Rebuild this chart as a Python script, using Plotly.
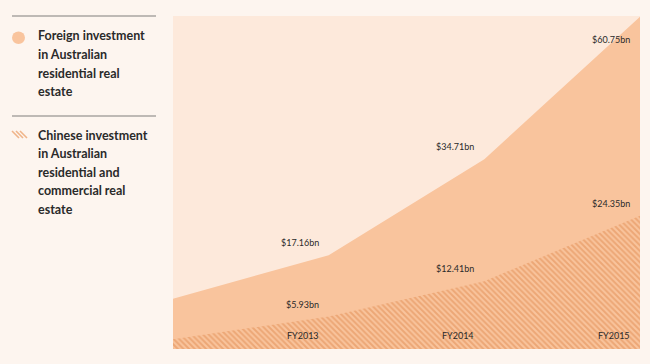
import plotly.graph_objects as go

# ---- data ----
years = ["FY2012", "FY2013", "FY2014", "FY2015"]
tick_labels = ["", "FY2013", "FY2014", "FY2015"]
foreign_vals = [9.2, 17.16, 34.71, 60.75]
chinese_vals = [1.8, 5.93, 12.41, 24.35]
foreign_labels = ["", "$17.16bn", "$34.71bn", "$60.75bn"]
chinese_labels = ["", "$5.93bn", "$12.41bn", "$24.35bn"]
legend_foreign = ["Foreign investment", "in Australian", "residential real", "estate"]
legend_chinese = ["Chinese investment", "in Australian", "residential and", "commercial real", "estate"]

W, H = 650, 364
L, R, T, B = 173, 10, 16, 15
PW = W - L - R
PH = H - T - B

def px_x(p):
    return (p - L) / PW

def px_y(p):
    return 1 - (p - T) / PH

PAGE_BG = "#fdf5ef"
PLOT_BG = "#fde9db"
FOREIGN = "#f9c49d"
STRIPE = "#e08a50"
TEXT = "#2a2a2a"
FONT = "Lato"

xs = list(range(len(years)))

fig = go.Figure()
fig.add_trace(go.Scatter(
    x=xs, y=foreign_vals, mode="lines", fill="tozeroy",
    fillcolor=FOREIGN, line=dict(color=FOREIGN, width=0), hoverinfo="skip",
))
fig.add_trace(go.Scatter(
    x=xs, y=chinese_vals, mode="lines", fill="tozeroy",
    fillcolor=FOREIGN,
    fillpattern=dict(shape="\\", fgcolor=STRIPE, bgcolor=FOREIGN, size=4, solidity=0.5),
    line=dict(color=FOREIGN, width=0), hoverinfo="skip",
))

ann = []
for i in xs:
    if foreign_labels[i]:
        top = i == len(xs) - 1
        ann.append(dict(x=i, y=foreign_vals[i], text=foreign_labels[i], showarrow=False,
                        xanchor="right", yanchor="top" if top else "bottom",
                        xshift=-8, yshift=-15 if top else 5,
                        font=dict(family=FONT, size=9, color=TEXT)))
    if chinese_labels[i]:
        ann.append(dict(x=i, y=chinese_vals[i], text=chinese_labels[i], showarrow=False,
                        xanchor="right", yanchor="bottom", xshift=-8, yshift=5,
                        font=dict(family=FONT, size=9, color=TEXT)))
    if tick_labels[i]:
        ann.append(dict(x=i, y=0, text=tick_labels[i], showarrow=False,
                        xanchor="right", yanchor="bottom", xshift=-8, yshift=6,
                        font=dict(family=FONT, size=9, color=TEXT)))

# legend panel
for j, t in enumerate(legend_foreign):
    ann.append(dict(xref="paper", yref="paper", x=px_x(36), y=px_y(36 + j * 18.6),
                    text="<b>" + t + "</b>", showarrow=False, xanchor="left", yanchor="middle",
                    font=dict(family=FONT, size=12.5, color=TEXT)))
for j, t in enumerate(legend_chinese):
    ann.append(dict(xref="paper", yref="paper", x=px_x(36), y=px_y(135 + j * 18.6),
                    text="<b>" + t + "</b>", showarrow=False, xanchor="left", yanchor="middle",
                    font=dict(family=FONT, size=12.5, color=TEXT)))

shapes = []
for yy in (16, 116):
    shapes.append(dict(type="line", xref="paper", yref="paper",
                       x0=px_x(12), x1=px_x(156), y0=px_y(yy), y1=px_y(yy),
                       line=dict(color="#a8a4a2", width=1.5)))
shapes.append(dict(type="circle", xref="paper", yref="paper",
                   x0=px_x(12), x1=px_x(25), y0=px_y(31.5), y1=px_y(44),
                   fillcolor=FOREIGN, line=dict(width=0)))
for k in range(3):
    o = k * 4
    shapes.append(dict(type="line", xref="paper", yref="paper",
                       x0=px_x(12 + o), x1=px_x(19 + o), y0=px_y(131), y1=px_y(138),
                       line=dict(color="#f0b48a", width=1.6)))

fig.update_layout(
    width=W, height=H,
    margin=dict(l=L, r=R, t=T, b=B),
    paper_bgcolor=PAGE_BG, plot_bgcolor=PLOT_BG,
    showlegend=False,
    hovermode=False,
    xaxis=dict(range=[0, len(xs) - 1], showgrid=False, zeroline=False, showticklabels=False,
               ticks="", fixedrange=True),
    yaxis=dict(range=[0, 60.9], showgrid=False, zeroline=False, showticklabels=False,
               ticks="", fixedrange=True),
    annotations=ann, shapes=shapes,
)

fig.write_html("out.html", config={"displayModeBar": False},
               post_script="document.body.style.margin='0';document.body.style.background='%s';" % PAGE_BG)
